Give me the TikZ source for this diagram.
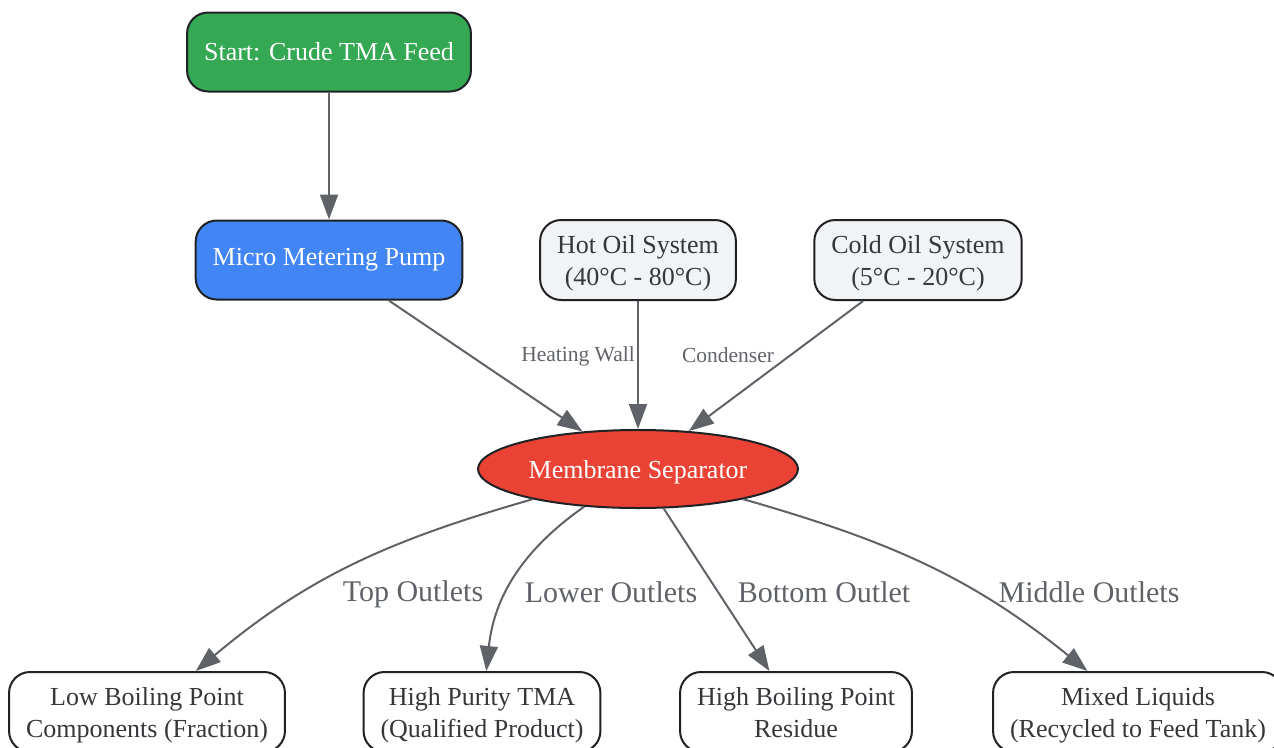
\documentclass[tikz,border=0pt]{standalone}
\usepackage{fontspec}
\setmainfont{Liberation Serif}
\usetikzlibrary{arrows.meta, positioning, shapes.geometric}
\definecolor{feedgreen}{HTML}{34A853}
\definecolor{pumpblue}{HTML}{4285F4}
\definecolor{sepred}{HTML}{EA4335}
\definecolor{oilgray}{HTML}{F1F3F4}
\definecolor{boxline}{HTML}{202124}
\definecolor{flowgray}{HTML}{5F6368}
\begin{document}
\begin{tikzpicture}[x=1pt,y=-1pt,line width=2pt,
every node/.style={font=\fontsize{26}{32}\selectfont},
unit/.style={draw=boxline,rounded corners=21pt,minimum height=79pt,inner xsep=17pt,align=center,text=boxline!90},
twoline/.style={unit,minimum height=80pt,text depth=-1pt},
every edge/.style={draw=flowgray,line width=2pt,-{Triangle[length=25pt,width=18pt]}},
smalllbl/.style={text=flowgray,font=\fontsize{21.5}{26}\selectfont},
outlbl/.style={text=flowgray,font=\fontsize{30}{34}\selectfont}]
\useasboundingbox (0,0) rectangle (1274,747);
% main line
\node[unit,fill=feedgreen,text=white] (feed) at (329,52) {Start: Crude TMA Feed};
\node[unit,fill=pumpblue,text=white] (pump) at (329,260) {Micro Metering Pump};
\node[twoline,fill=oilgray] (hot) at (638,260) {Hot Oil System\\(40°C - 80°C)};
\node[twoline,fill=oilgray] (cold) at (918,260) {Cold Oil System\\(5°C - 20°C)};
\node[ellipse,draw=boxline,fill=sepred,text=white,inner sep=0pt,text depth=0pt,minimum width=320pt,minimum height=78pt] (sep) at (638,469) {Membrane Separator};
% products
\node[twoline,fill=white] (low) at (147,712) {Low Boiling Point\\Components (Fraction)};
\node[twoline,fill=white] (tma) at (482,712) {High Purity TMA\\(Qualified Product)};
\node[twoline,fill=white] (res) at (796,712) {High Boiling Point\\Residue};
\node[twoline,fill=white] (mix) at (1138,712) {Mixed Liquids\\(Recycled to Feed Tank)};
\path (feed) edge (pump)
(pump) edge (sep)
(hot) edge (sep)
(cold) edge (sep)
(sep) edge [out=196,in=40] (low)
edge [out=215,in=84] (tma)
edge (res)
edge [out=-16,in=141] (mix);
% edge labels
\node[smalllbl] (heatlbl) at (578,356) {Heating Wall};
\node[smalllbl] (condlbl) at (728,355) {Condenser};
\node[outlbl] (toplbl) at (413,594) {Top Outlets};
\node[outlbl] (lowlbl) at (611,592) {Lower Outlets};
\node[outlbl] (botlbl) at (824,592) {Bottom Outlet};
\node[outlbl] (midlbl) at (1089,592) {Middle Outlets};
\end{tikzpicture}
\end{document}
